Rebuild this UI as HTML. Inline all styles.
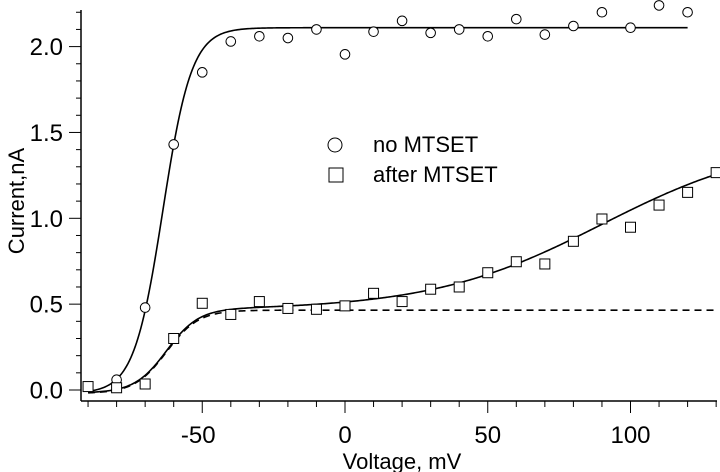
<!DOCTYPE html>
<html><head><meta charset="utf-8"><style>
html,body{margin:0;padding:0;background:#fff}
svg{display:block;font-family:"Liberation Sans",sans-serif}
</style></head><body>
<svg id="chart" width="720" height="472" viewBox="0 0 720 472"></svg>
<script>
const voltages = [-90,-80,-70,-60,-50,-40,-30,-20,-10,0,10,20,30,40,50,60,70,80,90,100,110,120,130];
const noMtset = [null,0.06,0.48,1.43,1.85,2.03,2.06,2.05,2.10,1.955,2.087,2.15,2.08,2.10,2.06,2.16,2.07,2.12,2.20,2.11,2.24,2.20,null];
const afterMtset = [0.02,0.013,0.035,0.30,0.505,0.44,0.515,0.475,0.47,0.49,0.563,0.515,0.587,0.60,0.683,0.747,0.734,0.866,0.996,0.948,1.077,1.151,1.266];
const xTicks = [-90,-80,-70,-60,-50,-40,-30,-20,-10,0,10,20,30,40,50,60,70,80,90,100,110,120,130];
const xTickLabels = [-50,0,50,100];
const yTickLabels = [0,0.5,1.0,1.5,2.0];
const yMinor = [0.0,0.1,0.2,0.3,0.4,0.5,0.6,0.7,0.8,0.9,1.0,1.1,1.2,1.3,1.4,1.5,1.6,1.7,1.8,1.9,2.0,2.1,2.2];

const NS="http://www.w3.org/2000/svg";
const svg=document.getElementById('chart');
const X=v=>345+v*2.855;
const Y=c=>390-c*171.7;
function mk(t,a){const e=document.createElementNS(NS,t);for(const k in a)e.setAttribute(k,a[k]);svg.appendChild(e);return e;}

let ax=mk('line',{x1:81,y1:10,x2:81,y2:401,stroke:'#000','stroke-width':1.5});


ax=mk('line',{x1:81,y1:401,x2:717,y2:401,stroke:'#000','stroke-width':1.5});



yMinor.forEach(v=>{
  const major=Math.abs(v*2-Math.round(v*2))<1e-6;
  const t=mk('line',{x1:major?69:76,x2:81,y1:Y(v),y2:Y(v),stroke:'#000','stroke-width':1});
  
  
});
yTickLabels.forEach(v=>{
  const t=mk('text',{x:63,y:Y(v)+8.5,'text-anchor':'end','font-size':24});
  t.textContent=v.toFixed(1);
  
  
});
xTicks.forEach(v=>{
  const major=v%50===0;
  const t=mk('line',{x1:X(v),x2:X(v),y1:401,y2:major?413:407,stroke:'#000','stroke-width':1});
  
  
});
xTickLabels.forEach(v=>{
  const t=mk('text',{x:X(v)-(v<0?4:0),y:443,'text-anchor':'middle','font-size':24});
  t.textContent=v;
  
  
});
let tt=mk('text',{x:402,y:469,'text-anchor':'middle','font-size':22});
tt.textContent='Voltage, mV';


tt=mk('text',{x:0,y:0,'text-anchor':'middle','font-size':22,transform:'translate(24,201) rotate(-90)'});
tt.textContent='Current,nA';



const fitA=v=>-0.02+2.13/(1+Math.exp(-(v+63.8)/5.05));
const fitB=v=>-0.02+0.485/(1+Math.exp(-(v+62.5)/5.6));
const fitC=v=>fitB(v)+1.0/(1+Math.exp(-(v-90)/30));
function curve(f,v0,v1,dash,name){
  let d='';for(let v=v0;v<=v1+1e-9;v+=0.5)d+=(d?'L':'M')+X(v).toFixed(2)+','+Y(f(v)).toFixed(2);
  const p=mk('path',{d:d,fill:'none',stroke:'#000','stroke-width':1.6});
  if(dash)p.setAttribute('stroke-dasharray','7,5');
  
  
}
curve(fitB,-90,130,true,'fit-dashed-after-mtset');
curve(fitC,-90,130,false,'fit-after-mtset');
curve(fitA,-90,120,false,'fit-no-mtset');

voltages.forEach((v,i)=>{
  if(noMtset[i]!=null){
    const c=mk('circle',{cx:X(v),cy:Y(noMtset[i]),r:4.8,fill:'#fff',stroke:'#000','stroke-width':1});
    
    
  }
  if(afterMtset[i]!=null){
    const s=mk('rect',{x:X(v)-5,y:Y(afterMtset[i])-5,width:10,height:10,fill:'#fff',stroke:'#000','stroke-width':1});
    
    
  }
});

let l=mk('circle',{cx:335,cy:145,r:7,fill:'#fff',stroke:'#000','stroke-width':1});


l=mk('text',{x:373,y:152,'font-size':22});
l.textContent='no MTSET';


l=mk('rect',{x:329,y:168,width:14,height:14,fill:'#fff',stroke:'#000','stroke-width':1});


l=mk('text',{x:373,y:182,'font-size':22});
l.textContent='after MTSET';


</script>
</body></html>
